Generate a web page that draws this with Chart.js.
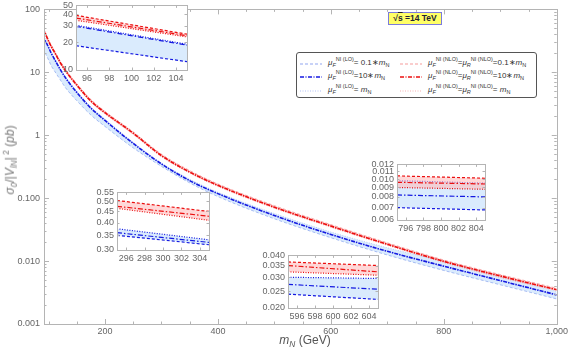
<!DOCTYPE html>
<html>
<head>
<meta charset="utf-8">
<script src="https://cdn.jsdelivr.net/npm/chart.js@4.4.0/dist/chart.umd.min.js"></script>
<style>
  body { margin: 0; background: #fff; }
  #wrap { position: relative; width: 570px; height: 352px; font-family: "Liberation Sans", Arial, sans-serif; color: #555; }
  .abs { position: absolute; }
  #legend { left: 296px; top: 52px; width: 239px; height: 44px; border: 1px solid #555; border-radius: 3px; background: #fff; font-size: 8px; color: #333; }
  #legend .row { position: absolute; white-space: nowrap; }
  #legend sub, #legend sup { font-size: 5.5px; }
  #legend svg { position: absolute; }
  #sqrts { left: 388px; top: 12px; width: 54px; height: 13px; background: rgb(255,255,102); border: 1px solid #7b7bdc; box-sizing: border-box; font-size: 8.5px; font-weight: bold; color: #223; line-height: 11px; text-align: center; }
  #ytitle { left: 10px; top: 160px; transform: translate(-50%,-50%) rotate(-90deg); white-space: nowrap; font-size: 12px; color: #777; }
  #xtitle { left: 305px; top: 341px; transform: translate(-50%,-50%); white-space: nowrap; font-size: 12px; color: #555; }
  sub, sup { font-size: 70%; }
</style>
</head>
<body>
<div id="wrap">
  <div class="abs" style="left:0;top:0;width:570px;height:352px"><canvas id="main"></canvas></div>
  <div class="abs" id="sqrts">&radic;<span style="text-decoration:overline">s</span> =14 TeV</div>
  <div class="abs" id="legend"></div>
  <div class="abs" id="ytitle"><i>σ</i><sub><i>0</i></sub>/|<i>V</i><sub><i>lN</i></sub>|<sup> 2</sup> (<i>pb</i>)</div>
  <div class="abs" id="xtitle"><i>m</i><sub><i>N</i></sub> (GeV)</div>
</div>
<script>
// main curves: heavy neutrino mass (GeV)
const massN = [90, 95, 100, 105, 110, 120, 130, 150, 175, 200, 250, 300, 350, 400, 500, 600, 700, 800, 900, 1000];
// NLO (red), scale choices
const nloLow  = [47.3, 38.2, 30.0, 24.6, 20.5, 14.1, 10.2, 6.0, 3.37, 2.18, 1.03, 0.455, 0.25, 0.153, 0.069, 0.0345, 0.0178, 0.0095, 0.0055, 0.0034];
const nloMid  = [49.4, 40.0, 31.4, 25.6, 21.4, 14.7, 10.6, 6.3, 3.5, 2.28, 1.08, 0.475, 0.26, 0.160, 0.072, 0.036, 0.0185, 0.0099, 0.0058, 0.0035];
const nloUp   = [52.0, 42.0, 33.0, 27.0, 22.5, 15.5, 11.2, 6.6, 3.7, 2.4, 1.13, 0.50, 0.275, 0.168, 0.076, 0.038, 0.0195, 0.0104, 0.0061, 0.0037];
// LO (blue), scale choices
const loLow   = [24.0, 19.5, 15.8, 12.6, 10.7, 7.8, 5.7, 3.55, 2.1, 1.38, 0.63, 0.32, 0.175, 0.106, 0.047, 0.0235, 0.0125, 0.0071, 0.0042, 0.0025];
const loMid   = [38.0, 31.0, 25.0, 20.0, 16.5, 11.4, 8.2, 4.8, 2.7, 1.72, 0.74, 0.35, 0.19, 0.118, 0.053, 0.0265, 0.0143, 0.0083, 0.0049, 0.0029];
const loTop   = [39.0, 32.0, 25.8, 20.6, 17.0, 11.8, 8.5, 5.0, 2.8, 1.8, 0.77, 0.36, 0.20, 0.124, 0.057, 0.029, 0.0163, 0.0099, 0.0057, 0.0033];

const xTicks = [200, 400, 600, 800, 1000];
const yTicks = [0.001, 0.01, 0.1, 1, 10, 100];
const yTickLabels = ['0.001', '0.010', '0.100', '1', '10', '100'];

// zoomed insets, endpoints of each window
const in1X = [95, 105];
const in1 = { rUp: [39, 24.4], rMid: [36.5, 23.5], rLow: [34.5, 22.8], bTop: [30.5, 19.0], bMid: [29.7, 18.6], bLow: [18.3, 12.3] };
const in2X = [295, 305];
const in2 = { rUp: [0.505, 0.45], rMid: [0.475, 0.428], rLow: [0.465, 0.41], bTop: [0.375, 0.334], bMid: [0.36, 0.325], bLow: [0.35, 0.317] };
const in3X = [595, 605];
const in3 = { rUp: [0.0367, 0.035], rMid: [0.035, 0.0322], rLow: [0.0322, 0.0308], bTop: [0.030, 0.0295], bMid: [0.0273, 0.0256], bLow: [0.024, 0.0224] };
const in4X = [795, 805];
const in4 = { rUp: [0.0104, 0.0101], rMid: [0.0096, 0.0094], rLow: [0.0090, 0.0088], bTop: [0.0098, 0.0095], bMid: [0.0082, 0.0080], bLow: [0.0070, 0.0068] };

const BLUE = 'rgb(20,25,225)', RED = 'rgb(235,15,15)';
const BLUE_FILL = 'rgba(205,228,252,0.75)', RED_FILL = 'rgba(255,190,190,0.6)';
const DASH = [3, 2], DOT = [1, 1.5], DASHDOT = [5, 2, 1.5, 2], MAINDD = [4, 1, 1.5, 1];

const pts = (xs, ys) => xs.map((x, i) => ({ x: x, y: ys[i] }));

// frame with inward ticks, Mathematica style
const framePlugin = {
  id: 'frame',
  beforeDatasetsDraw(chart, args, opts) {
    if (!opts.bg) return;
    const a = chart.chartArea, ctx = chart.ctx;
    ctx.save(); ctx.fillStyle = opts.bg;
    ctx.fillRect(a.left, a.top, a.right - a.left, a.bottom - a.top);
    ctx.restore();
  },
  afterDraw(chart, args, opts) {
    const a = chart.chartArea, ctx = chart.ctx, sx = chart.scales.x, sy = chart.scales.y;
    ctx.save();
    ctx.strokeStyle = opts.color || '#aaa';
    ctx.lineWidth = 1;
    ctx.strokeRect(Math.round(a.left) + 0.5, Math.round(a.top) + 0.5, Math.round(a.right - a.left), Math.round(a.bottom - a.top));
    ctx.beginPath();
    (opts.xt || []).forEach(t => {
      const p = Math.round(sx.getPixelForValue(t[0])) + 0.5;
      ctx.moveTo(p, a.bottom); ctx.lineTo(p, a.bottom - t[1]);
      ctx.moveTo(p, a.top); ctx.lineTo(p, a.top + t[1]);
    });
    (opts.yt || []).forEach(t => {
      const p = Math.round(sy.getPixelForValue(t[0])) + 0.5;
      ctx.moveTo(a.left, p); ctx.lineTo(a.left + t[1], p);
      ctx.moveTo(a.right, p); ctx.lineTo(a.right - t[1], p);
    });
    ctx.stroke();
    ctx.restore();
  }
};

const mainXt = [], mainYt = [];
for (let v = 100; v <= 1000; v += 50) mainXt.push([v, xTicks.includes(v) ? 5 : 2.5]);
for (let d = 0.001; d < 100; d *= 10) for (let k = 1; k < 10; k++) mainYt.push([d * k, k === 1 ? 5 : 2.5]);
mainYt.push([100, 5]);

const tickFont = { family: '"Liberation Sans", Arial, sans-serif', size: 9 };
const noGrid = { display: false, drawTicks: false };

new Chart(document.getElementById('main'), {
  type: 'line',
  data: {
    datasets: [
      { data: pts(massN, loLow), order: 3, borderColor: 'rgba(120,150,235,0.6)', borderDash: DASH, borderWidth: 1, fill: false },
      { data: pts(massN, loTop), order: 3, borderColor: 'rgba(120,150,235,0.45)', borderDash: DOT, borderWidth: 1, fill: { target: 0 }, backgroundColor: BLUE_FILL },
      { data: pts(massN, nloLow), order: 2, borderColor: 'rgba(240,120,120,0.6)', borderDash: DOT, borderWidth: 1, fill: false },
      { data: pts(massN, nloUp), order: 2, borderColor: 'rgba(240,120,120,0.6)', borderDash: DASH, borderWidth: 1, fill: { target: 2 }, backgroundColor: RED_FILL },
      { data: pts(massN, loMid), order: 1, borderColor: BLUE, borderDash: MAINDD, borderWidth: 1.6, fill: false },
      { data: pts(massN, nloMid), order: 0, borderColor: RED, borderDash: MAINDD, borderWidth: 1.6, fill: false }
    ]
  },
  options: {
    responsive: true, maintainAspectRatio: false, animation: false,
    layout: { padding: { left: 0, right: 10, top: 4, bottom: 0 } },
    elements: { point: { radius: 0 }, line: { cubicInterpolationMode: 'monotone' } },
    plugins: { legend: { display: false }, tooltip: { enabled: false }, frame: { xt: mainXt, yt: mainYt, color: '#b4b4b4' } },
    scales: {
      x: {
        type: 'linear', min: 92, max: 1000,
        afterBuildTicks: s => { s.ticks = xTicks.map(v => ({ value: v })); },
        afterFit: s => { s.height = 28; },
        grid: noGrid, border: { display: false },
        ticks: { color: '#666', font: tickFont, padding: 2, maxRotation: 0, autoSkip: false }
      },
      y: {
        type: 'logarithmic', min: 0.001, max: 100,
        afterBuildTicks: s => { s.ticks = yTicks.map(v => ({ value: v })); },
        afterFit: s => { s.width = 44; },
        grid: noGrid, border: { display: false },
        ticks: { color: '#666', font: tickFont, padding: 4, autoSkip: false, callback: (v, i) => yTickLabels[i] }
      }
    }
  },
  plugins: [framePlugin]
});

function makeInset(box, xs, d, xr, yr, xt, yt, yl) {
  const yW = 36, padT = 8, padR = 12, xH = 16;
  const div = document.createElement('div');
  div.className = 'abs';
  div.style.left = (box.l - yW) + 'px';
  div.style.top = (box.t - padT) + 'px';
  div.style.width = (yW + box.r - box.l + padR) + 'px';
  div.style.height = (padT + box.b - box.t + xH) + 'px';
  const cv = document.createElement('canvas');
  div.appendChild(cv);
  document.getElementById('wrap').insertBefore(div, document.getElementById('sqrts'));
  new Chart(cv, {
    type: 'line',
    data: {
      datasets: [
        { data: pts(xs, d.bLow), order: 3, borderColor: BLUE, borderDash: DASH, borderWidth: 1.2, fill: false },
        { data: pts(xs, d.bTop), order: 3, borderColor: BLUE, borderDash: DOT, borderWidth: 1.2, fill: { target: 0 }, backgroundColor: BLUE_FILL },
        { data: pts(xs, d.bMid), order: 1, borderColor: BLUE, borderDash: DASHDOT, borderWidth: 1.2, fill: false },
        { data: pts(xs, d.rLow), order: 2, borderColor: RED, borderDash: DOT, borderWidth: 1.2, fill: false },
        { data: pts(xs, d.rUp), order: 2, borderColor: RED, borderDash: DASH, borderWidth: 1.2, fill: { target: 3 }, backgroundColor: RED_FILL },
        { data: pts(xs, d.rMid), order: 0, borderColor: RED, borderDash: DASHDOT, borderWidth: 1.2, fill: false }
      ]
    },
    options: {
      responsive: true, maintainAspectRatio: false, animation: false,
      layout: { padding: { left: 0, right: padR, top: padT, bottom: 0 } },
      elements: { point: { radius: 0 } },
      plugins: { legend: { display: false }, tooltip: { enabled: false },
        frame: { bg: '#fff', color: '#b4b4b4', xt: xt.map(v => [v, 2.5]), yt: yt.map(v => [v, 2.5]) } },
      scales: {
        x: {
          type: 'linear', min: xr[0], max: xr[1],
          afterBuildTicks: s => { s.ticks = xt.map(v => ({ value: v })); },
          afterFit: s => { s.height = xH; },
          grid: noGrid, border: { display: false },
          ticks: { color: '#666', font: tickFont, padding: 3, maxRotation: 0, minRotation: 0, autoSkip: false }
        },
        y: {
          type: 'logarithmic', min: yr[0], max: yr[1],
          afterBuildTicks: s => { s.ticks = yt.map(v => ({ value: v })); },
          afterFit: s => { s.width = yW; },
          grid: noGrid, border: { display: false },
          ticks: { color: '#666', font: tickFont, padding: 3, autoSkip: false, callback: (v, i) => yl[i] }
        }
      }
    },
    plugins: [framePlugin]
  });
}

makeInset({ l: 76, r: 187, t: 5, b: 70 }, in1X, in1, [95, 105], [10, 50],
  [96, 98, 100, 102, 104], [10, 20, 30, 40, 50], ['10', '20', '30', '40', '50']);
makeInset({ l: 117, r: 209, t: 192, b: 250 }, in2X, in2, [295, 305], [0.30, 0.55],
  [296, 298, 300, 302, 304], [0.30, 0.35, 0.40, 0.45, 0.50, 0.55], ['0.30', '0.35', '0.40', '0.45', '0.50', '0.55']);
makeInset({ l: 288, r: 378, t: 255, b: 308 }, in3X, in3, [595, 605], [0.020, 0.040],
  [596, 598, 600, 602, 604], [0.020, 0.025, 0.030, 0.035, 0.040], ['0.020', '0.025', '0.030', '0.035', '0.040']);
makeInset({ l: 397, r: 485, t: 164, b: 220 }, in4X, in4, [795, 805], [0.006, 0.012],
  [796, 798, 800, 802, 804], [0.006, 0.007, 0.008, 0.009, 0.010, 0.011, 0.012], ['0.006', '0.007', '0.008', '0.009', '0.010', '0.011', '0.012']);

// legend
const legendRows = [
  { y: 6,  c1: 'rgba(150,170,240,0.7)', d1: '3,2',      t1: '= 0.1∗<i>m</i><sub>N</sub>', c2: 'rgba(245,160,160,0.7)', d2: '3,2',      t2: '=0.1∗<i>m</i><sub>N</sub>' },
  { y: 19, c1: BLUE,                    d1: '4,1.5,1,1.5', t1: '=10∗<i>m</i><sub>N</sub>',  c2: RED,                     d2: '4,1.5,1,1.5', t2: '=10∗<i>m</i><sub>N</sub>' },
  { y: 33, c1: 'rgba(170,185,245,0.6)', d1: '1,1.5',    t1: '= <i>m</i><sub>N</sub>',    c2: 'rgba(245,170,170,0.6)', d2: '1,1.5',    t2: '= <i>m</i><sub>N</sub>' }
];
const lg = document.getElementById('legend');
const muLO = '<i>μ</i><sub><i>F</i></sub><sup>NI (LO)</sup>';
const muNLO = '<i>μ</i><sub><i>F</i></sub><sup>NI (NLO)</sup>=<i>μ</i><sub><i>R</i></sub><sup>NI (NLO)</sup>';
legendRows.forEach(r => {
  lg.insertAdjacentHTML('beforeend',
    `<svg style="left:3px;top:${r.y + 3}px" width="22" height="4"><line x1="0" y1="2" x2="22" y2="2" stroke="${r.c1}" stroke-width="1.3" stroke-dasharray="${r.d1}"/></svg>` +
    `<div class="row" style="left:31px;top:${r.y - 3}px">${muLO}${r.t1}</div>` +
    `<svg style="left:103px;top:${r.y + 3}px" width="22" height="4"><line x1="0" y1="2" x2="22" y2="2" stroke="${r.c2}" stroke-width="1.3" stroke-dasharray="${r.d2}"/></svg>` +
    `<div class="row" style="left:131px;top:${r.y - 3}px">${muNLO}${r.t2}</div>`);
});
</script>
</body>
</html>
